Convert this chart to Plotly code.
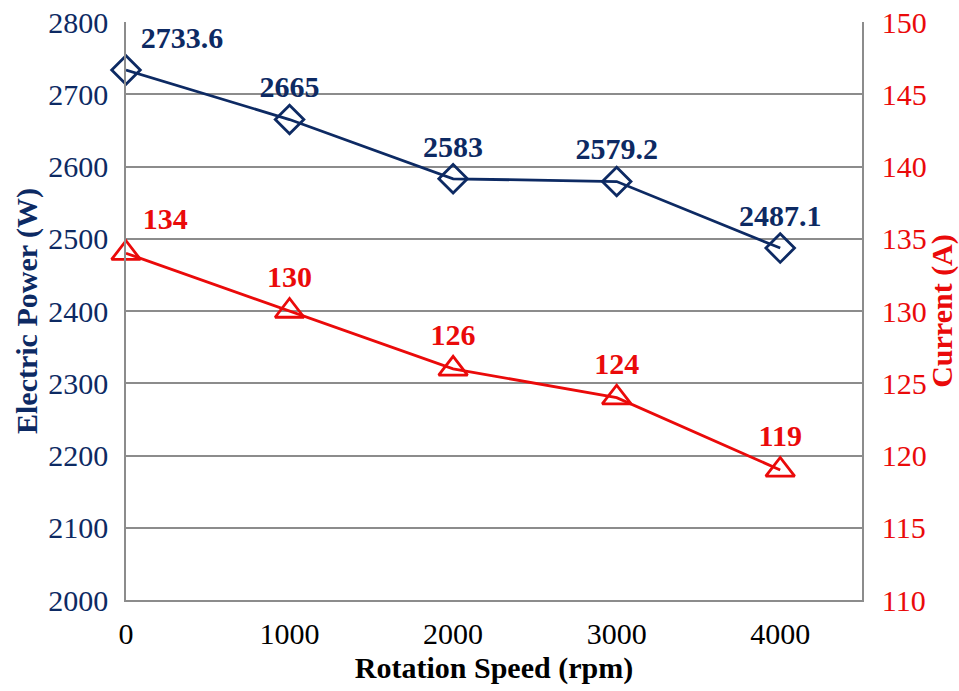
import plotly.graph_objects as go

speed = [0, 1000, 2000, 3000, 4000]
power = [2733.6, 2665, 2583, 2579.2, 2487.1]
current = [134, 130, 126, 124, 119]
power_labels = ["2733.6", "2665", "2583", "2579.2", "2487.1"]
current_labels = ["134", "130", "126", "124", "119"]
power_ticks = [2000, 2100, 2200, 2300, 2400, 2500, 2600, 2700, 2800]
current_ticks = [110, 115, 120, 125, 130, 135, 140, 145, 150]

NAVY = "#0D2A63"
RED = "#EA0A0A"
GRID = "#8C8C8C"
FONT = "Liberation Serif"

fig = go.Figure()
fig.add_trace(go.Scatter(
    x=speed, y=power, mode="lines+markers+text",
    line=dict(color=NAVY, width=2.8),
    marker=dict(symbol="diamond-open", size=22, color=NAVY, line=dict(width=2.8, color=NAVY)),
    text=power_labels,
    textposition=["top right", "top center", "top center", "top center", "top center"],
    textfont=dict(family=FONT, size=30, color=NAVY, weight="bold"),
    cliponaxis=False, showlegend=False, hoverinfo="skip", yaxis="y"))
fig.add_trace(go.Scatter(
    x=speed, y=current, mode="lines+markers+text",
    line=dict(color=RED, width=2.8),
    marker=dict(symbol="triangle-up-open", size=25, color=RED, line=dict(width=2.8, color=RED)),
    text=current_labels,
    textposition=["top right", "top center", "top center", "top center", "top center"],
    textfont=dict(family=FONT, size=30, color=RED, weight="bold"),
    cliponaxis=False, showlegend=False, hoverinfo="skip", yaxis="y2"))

fig.update_layout(
    width=959, height=691,
    margin=dict(l=126, r=97, t=22, b=91),
    paper_bgcolor="white", plot_bgcolor="white",
    font=dict(family=FONT),
    xaxis=dict(range=[0, 4500], tickvals=speed, ticktext=[str(s) for s in speed],
               automargin=False, ticklabeloverflow="allow",
               showgrid=False, zeroline=False, showline=True, linecolor=GRID, linewidth=1.5,
               tickfont=dict(family=FONT, size=30, color="black"), ticklabelstandoff=6,
               title=dict(text="Rotation Speed (rpm)", font=dict(family=FONT, size=30, color="black", weight="bold"), standoff=8)),
    yaxis=dict(range=[2000, 2800], tickvals=power_ticks,
               showgrid=True, gridcolor=GRID, gridwidth=1.5,
               automargin=False, ticklabeloverflow="allow",
               zeroline=False, showline=True, linecolor=GRID, linewidth=1.5,
               tickfont=dict(family=FONT, size=30, color=NAVY), ticklabelstandoff=10,
               title=dict(text="Electric Power (W)", font=dict(family=FONT, size=30, color=NAVY, weight="bold"), standoff=2)),
    yaxis2=dict(range=[110, 150], tickvals=current_ticks,
                overlaying="y", side="right", showgrid=False,
                automargin=False, ticklabeloverflow="allow",
                zeroline=False, showline=True, linecolor=GRID, linewidth=1.5,
                tickfont=dict(family=FONT, size=30, color=RED), ticklabelstandoff=12,
                title=dict(text="Current (A)", font=dict(family=FONT, size=30, color=RED, weight="bold"), standoff=4)),
)

fig.write_html("out.html", config={"displayModeBar": False},
               post_script="document.body.style.margin='0';")
